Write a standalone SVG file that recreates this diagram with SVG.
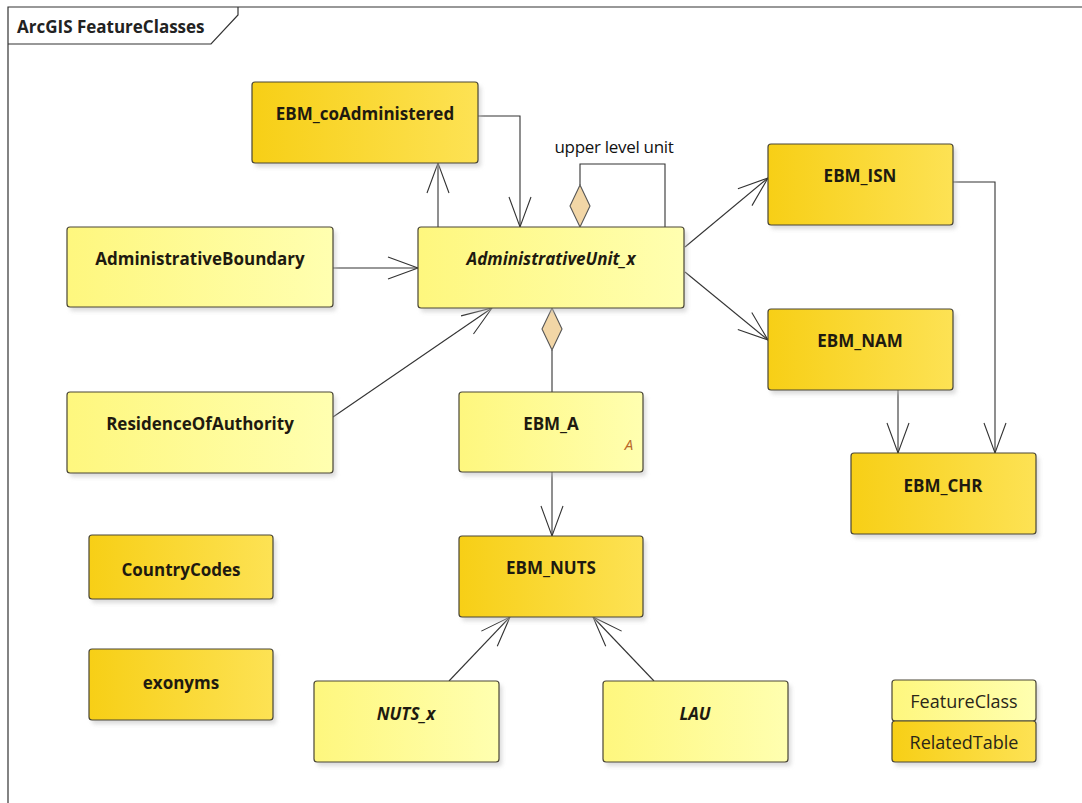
<svg xmlns="http://www.w3.org/2000/svg" width="1082" height="803" viewBox="0 0 1082 803">
<style>
.fc{stroke:#4a4636;stroke-width:1.2;fill:url(#gFC)}
.rt{stroke:#4a4636;stroke-width:1.2;fill:url(#gRT)}
.sh{fill:#bdbdbd;opacity:0.55;filter:url(#blur)}
.t{font-family:"Open Sans","Liberation Sans",sans-serif;font-weight:bold;font-size:17px;fill:#1e1a10;text-anchor:middle;dominant-baseline:central}
.i{font-style:italic}
.lg{font-family:"Open Sans","Liberation Sans",sans-serif;font-size:18px;fill:#2a2618;text-anchor:middle;dominant-baseline:central}
.c{fill:none;stroke:#333;stroke-width:1.1}
.a{marker-end:url(#open)}
.dm{fill:#f2d6a6;stroke:#555;stroke-width:1.1}
</style>
<defs>
<linearGradient id="gFC" x1="0" y1="0" x2="1" y2="0">
<stop offset="0" stop-color="#fef77e"/>
<stop offset="1" stop-color="#ffffb0"/>
</linearGradient>
<linearGradient id="gRT" x1="0" y1="0" x2="1" y2="0">
<stop offset="0" stop-color="#f7cf16"/>
<stop offset="1" stop-color="#fde254"/>
</linearGradient>
<filter id="blur" x="-10%" y="-10%" width="120%" height="130%"><feGaussianBlur stdDeviation="2"/></filter>
<marker id="open" viewBox="-32 -13 34 26" refX="0" refY="0" markerWidth="34" markerHeight="26" markerUnits="userSpaceOnUse" orient="auto">
<path d="M-30,-11 L0,0 L-30,11" fill="none" stroke="#333" stroke-width="1.1"/>
</marker>
</defs>
<rect width="1082" height="803" fill="#ffffff"/>
<g id="frame">
<path d="M8,803 L8,7 L1082,7" fill="none" stroke="#333" stroke-width="1.2"/>
<path d="M8,44 L211,44 L238,15 L238,7" fill="none" stroke="#333" stroke-width="1.2"/>
<text x="17" y="26" style="font-family:'Open Sans','Liberation Sans',sans-serif;font-weight:bold;font-size:17px;fill:#222;dominant-baseline:central">ArcGIS FeatureClasses</text>
</g>
<g id="connectors">
<path class="c a" d="M438,227 L438,163"/>
<path class="c a" d="M478,116 L520,116 L520,227"/>
<path class="c" d="M665,227 L665,164 L580,164 L580,185"/>
<polygon class="dm" points="580,185 590,206 580,227 570,206"/>
<text x="614" y="146" style="font-family:'Open Sans','Liberation Sans',sans-serif;font-size:17px;fill:#111;text-anchor:middle;dominant-baseline:central;letter-spacing:-0.3px">upper level unit</text>
<path class="c a" d="M333,268 L418,268"/>
<path class="c a" d="M333,417 L492,308"/>
<path class="c a" d="M685,247 L768,178"/>
<path class="c a" d="M685,272 L768,340"/>
<path class="c" d="M552,350 L552,392"/>
<polygon class="dm" points="552,308 562,329 552,350 542,329"/>
<path class="c a" d="M552,472 L552,536"/>
<path class="c a" d="M953,182 L995,182 L995,453"/>
<path class="c a" d="M898,390 L898,453"/>
<path class="c a" d="M449,681 L510,617"/>
<path class="c a" d="M654,681 L593,617"/>
</g>
<g id="EBM_coAdministered">
<rect class="sh" x="255" y="86" width="226" height="81" rx="3"/>
<rect class="rt" x="252" y="82" width="226" height="81" rx="3"/>
<text class="t" x="365" y="113">EBM_coAdministered</text>
</g>
<g id="AdministrativeUnit_x">
<rect class="sh" x="421" y="231" width="266" height="81" rx="3"/>
<rect class="fc" x="418" y="227" width="266" height="81" rx="3"/>
<text class="t i" x="551" y="258">AdministrativeUnit_x</text>
</g>
<g id="AdministrativeBoundary">
<rect class="sh" x="70" y="231" width="266" height="80" rx="3"/>
<rect class="fc" x="67" y="227" width="266" height="80" rx="3"/>
<text class="t" x="200" y="258">AdministrativeBoundary</text>
</g>
<g id="ResidenceOfAuthority">
<rect class="sh" x="70" y="396" width="266" height="81" rx="3"/>
<rect class="fc" x="67" y="392" width="266" height="81" rx="3"/>
<text class="t" x="200" y="423">ResidenceOfAuthority</text>
</g>
<g id="EBM_A">
<rect class="sh" x="462" y="396" width="184" height="80" rx="3"/>
<rect class="fc" x="459" y="392" width="184" height="80" rx="3"/>
<text class="t" x="551" y="423">EBM_A</text>
<text x="629" y="444" style="font-family:'Open Sans','Liberation Sans',sans-serif;font-style:italic;font-size:15px;fill:#b8682a;text-anchor:middle;dominant-baseline:central">A</text>
</g>
<g id="EBM_NUTS">
<rect class="sh" x="462" y="540" width="184" height="81" rx="3"/>
<rect class="rt" x="459" y="536" width="184" height="81" rx="3"/>
<text class="t" x="551" y="567">EBM_NUTS</text>
</g>
<g id="EBM_ISN">
<rect class="sh" x="771" y="148" width="185" height="81" rx="3"/>
<rect class="rt" x="768" y="144" width="185" height="81" rx="3"/>
<text class="t" x="860" y="175">EBM_ISN</text>
</g>
<g id="EBM_NAM">
<rect class="sh" x="771" y="313" width="185" height="81" rx="3"/>
<rect class="rt" x="768" y="309" width="185" height="81" rx="3"/>
<text class="t" x="860" y="340">EBM_NAM</text>
</g>
<g id="EBM_CHR">
<rect class="sh" x="854" y="457" width="185" height="81" rx="3"/>
<rect class="rt" x="851" y="453" width="185" height="81" rx="3"/>
<text class="t" x="943" y="485">EBM_CHR</text>
</g>
<g id="CountryCodes">
<rect class="sh" x="92" y="539" width="184" height="64" rx="3"/>
<rect class="rt" x="89" y="535" width="184" height="64" rx="3"/>
<text class="t" x="181" y="569">CountryCodes</text>
</g>
<g id="exonyms">
<rect class="sh" x="92" y="653" width="184" height="71" rx="3"/>
<rect class="rt" x="89" y="649" width="184" height="71" rx="3"/>
<text class="t" x="181" y="682">exonyms</text>
</g>
<g id="NUTS_x">
<rect class="sh" x="317" y="685" width="185" height="81" rx="3"/>
<rect class="fc" x="314" y="681" width="185" height="81" rx="3"/>
<text class="t i" x="406" y="713">NUTS_x</text>
</g>
<g id="LAU">
<rect class="sh" x="606" y="685" width="185" height="81" rx="3"/>
<rect class="fc" x="603" y="681" width="185" height="81" rx="3"/>
<text class="t i" x="695" y="713">LAU</text>
</g>
<g id="legend">
<rect class="sh" x="895" y="684" width="144" height="82" rx="3"/>
<rect class="fc" x="892" y="680" width="144" height="41" rx="3"/>
<text class="lg" x="964" y="701">FeatureClass</text>
<rect class="rt" x="892" y="721" width="144" height="41" rx="3"/>
<text class="lg" x="964" y="742">RelatedTable</text>
</g>
</svg>
